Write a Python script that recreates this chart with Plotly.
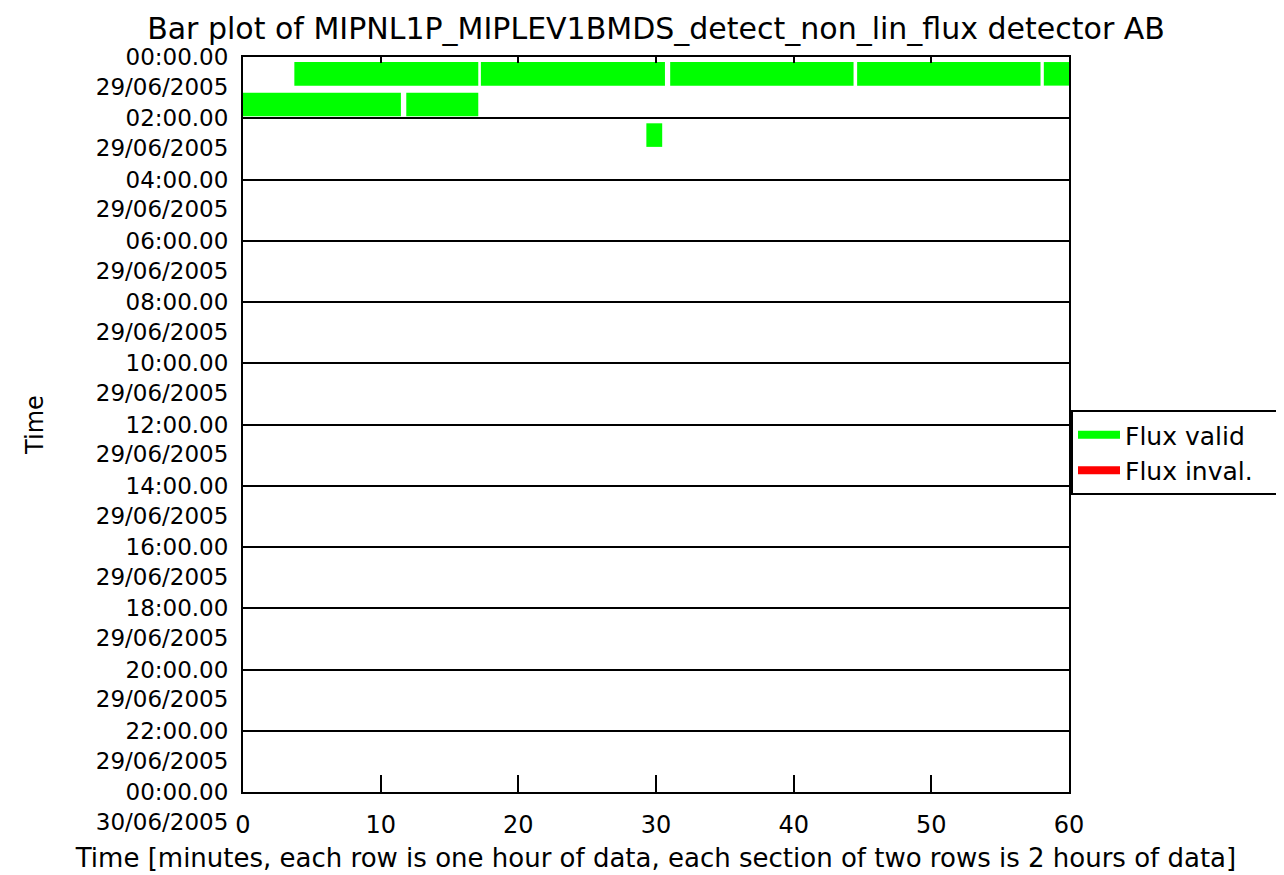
import plotly.graph_objects as go

# ---- data ----
# each entry: hour-row index, start minute, end minute (valid flux)
valid_rows = [0, 0, 0, 0, 0, 1, 1, 2]
valid_start = [3.73, 17.28, 31.03, 44.61, 58.17, 0.0, 11.86, 29.30]
valid_end = [17.09, 30.65, 44.35, 57.93, 60.0, 11.47, 17.09, 30.45]

# invalid flux: none in this period
invalid_rows = []
invalid_start = []
invalid_end = []

section_hours = [0, 2, 4, 6, 8, 10, 12, 14, 16, 18, 20, 22, 24]
section_times = ["00:00.00", "02:00.00", "04:00.00", "06:00.00", "08:00.00", "10:00.00",
                 "12:00.00", "14:00.00", "16:00.00", "18:00.00", "20:00.00", "22:00.00",
                 "00:00.00"]
section_dates = ["29/06/2005"] * 12 + ["30/06/2005"]
minute_ticks = [0, 10, 20, 30, 40, 50, 60]
legend_names = ["Flux valid", "Flux inval."]

FONT = "DejaVu Sans"
GREEN = "#00ff00"
RED = "#ff0000"
OFF = 8  # page body margin of the browser

fig = go.Figure()

fig.add_trace(go.Bar(
    orientation="h",
    y=[r + 0.55 for r in valid_rows],
    base=valid_start,
    x=[e - s for s, e in zip(valid_start, valid_end)],
    width=0.77,
    marker=dict(color=GREEN, line=dict(width=0)),
    showlegend=False,
    hoverinfo="skip",
))
fig.add_trace(go.Bar(
    orientation="h",
    y=[r + 0.55 for r in invalid_rows],
    base=invalid_start,
    x=[e - s for s, e in zip(invalid_start, invalid_end)],
    width=0.77,
    marker=dict(color=RED, line=dict(width=0)),
    showlegend=False,
    hoverinfo="skip",
))

# legend entries (line symbols), placed on the top mirror axis
PAD = "\u00a0" * 4
fig.add_trace(go.Scatter(x=[None], y=[None], mode="lines", name=legend_names[0] + PAD,
                         line=dict(color=GREEN, width=8), xaxis="x2",
                         legendgroup="a"))
fig.add_trace(go.Scatter(x=[None], y=[None], mode="lines", name=legend_names[1] + PAD,
                         line=dict(color=RED, width=8), xaxis="x2",
                         legendgroup="b"))

ticktext = ["\u00a0<br>" + t + "<br>" + d for t, d in zip(section_times, section_dates)]

L, R_EDGE, T, B_EDGE = 243 - OFF, 1069 - OFF, 57 - OFF, 792 - OFF

fig.update_layout(
    width=1284, height=875,
    paper_bgcolor="white", plot_bgcolor="white",
    font=dict(family=FONT, size=24, color="black"),
    margin=dict(l=L, r=1284 - R_EDGE, t=T, b=875 - B_EDGE, autoexpand=False),
    barmode="overlay",
    title=dict(text="Bar plot of MIPNL1P_MIPLEV1BMDS_detect_non_lin_flux detector AB",
               x=0.5, xanchor="center", xref="paper",
               y=1 - (28 - OFF) / 875, yref="container", yanchor="middle",
               font=dict(family=FONT, size=30, color="black")),
    xaxis=dict(
        range=[0, 60], tickvals=minute_ticks, ticktext=[str(v) for v in minute_ticks],
        ticks="inside", ticklen=17, tickwidth=2, tickcolor="black",
        showline=True, linecolor="black", linewidth=2, mirror=True,
        showgrid=False, zeroline=False, ticklabelstandoff=10,
        tickfont=dict(family=FONT, size=24),
        title=dict(text="Time [minutes, each row is one hour of data, each section of two rows is 2 hours of data]",
                   standoff=11, font=dict(family=FONT, size=26)),
    ),
    xaxis2=dict(
        range=[0, 60], overlaying="x", side="top", matches="x",
        tickvals=minute_ticks, ticks="inside", ticklen=6, tickwidth=2,
        tickcolor="black", showticklabels=False, showgrid=False,
        zeroline=False, showline=False,
    ),
    yaxis=dict(
        range=[24, 0], tickvals=section_hours, ticktext=ticktext,
        ticks="", showgrid=True, gridcolor="black", gridwidth=2,
        showline=True, linecolor="black", linewidth=2, mirror=True,
        zeroline=False, ticklabelstandoff=8,
        tickfont=dict(family=FONT, size=23),
        title=dict(text="Time", standoff=45, font=dict(family=FONT, size=24)),
    ),
    legend=dict(
        x=(1071 - 243) / 826, xanchor="left", xref="paper",
        y=(B_EDGE - (410 - OFF)) / 735, yanchor="top", yref="paper",
        bordercolor="black", borderwidth=2, bgcolor="white",
        font=dict(family=FONT, size=25), tracegroupgap=0,
        itemwidth=42,
    ),
)

fig.write_html("out.html")
